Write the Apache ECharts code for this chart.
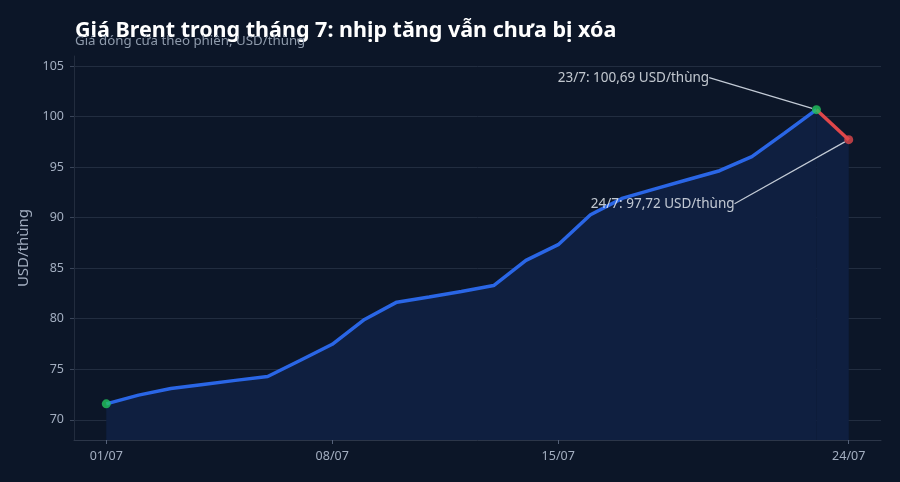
<!DOCTYPE html>
<html>
<head>
<meta charset="utf-8">
<script src="https://cdn.jsdelivr.net/npm/echarts@6/dist/echarts.min.js"></script>
<style>
  html, body { margin: 0; padding: 0; background: #0c1628; }
  #chart { width: 900px; height: 482px; }
</style>
</head>
<body>
<div id="chart"></div>
<script>
// Ngày trong tháng 7 và giá đóng cửa Brent (USD/thùng)
const days = [1, 2, 3, 4, 5, 6, 7, 8, 9, 10, 11, 12, 13, 14, 15, 16, 17, 18, 19, 20, 21, 22, 23, 24];
const prices = [71.58, 72.44, 73.1, 73.5, 73.9, 74.28, 75.87, 77.47, 79.93, 81.64, 82.15, 82.7, 83.28, 85.78, 87.33, 90.29, 91.93, 92.85, 93.75, 94.65, 96.04, 98.35, 100.69, 97.72];
const tickDays = [1, 8, 15, 24];
const yTicks = [70, 75, 80, 85, 90, 95, 100, 105];

const FONT = 'Noto Sans';
const pad = d => String(d).padStart(2, '0') + '/07';
const pts = days.map((d, i) => [d, prices[i]]);
const rising = pts.slice(0, pts.length - 1);
const falling = pts.slice(pts.length - 2);
const fmt = v => v.toFixed(2).replace('.', ',');

// chỉnh vị trí nhãn chú thích (dataIndex 1 = 23/7, 2 = 24/7)
const labelShift = {
    1: { dx: -183, dy: -32 },
    2: { dx: -186, dy: 64 }
};

const chart = echarts.init(document.getElementById('chart'));
chart.setOption({
    backgroundColor: '#0c1628',
    textStyle: { fontFamily: FONT },
    title: {
        text: 'Giá Brent trong tháng 7: nhịp tăng vẫn chưa bị xóa',
        subtext: 'Giá đóng cửa theo phiên, USD/thùng',
        left: 70,
        top: 15,
        itemGap: -7,
        textStyle: { color: '#ffffff', fontSize: 21.5, fontWeight: 'bold', fontFamily: FONT },
        subtextStyle: { color: '#8e9aab', fontSize: 13.3, fontFamily: FONT }
    },
    grid: { left: 74, right: 19, top: 56, bottom: 42 },
    xAxis: {
        type: 'value',
        min: 0,
        max: 25,
        axisLine: { show: true, lineStyle: { color: '#2c3649' } },
        axisTick: { show: true, customValues: tickDays, length: 4, lineStyle: { color: '#56627a' } },
        axisLabel: { customValues: tickDays, formatter: v => pad(v), color: '#a3aec0', fontSize: 12.5, margin: 10 },
        splitLine: { show: false }
    },
    yAxis: {
        type: 'value',
        min: 68,
        max: 106,
        name: 'USD/thùng',
        nameLocation: 'middle',
        nameGap: 42,
        nameTextStyle: { color: '#a3aec0', fontSize: 15 },
        axisLine: { show: true, lineStyle: { color: '#222c3e' } },
        axisTick: { show: true, customValues: yTicks, length: 4, lineStyle: { color: '#3a4559' } },
        axisLabel: { customValues: yTicks, color: '#a3aec0', fontSize: 12.5, margin: 10 },
        splitLine: { show: true, lineStyle: { color: '#222d40', width: 1 } }
    },
    series: [
        {
            type: 'line',
            data: rising,
            showSymbol: false,
            lineStyle: { color: '#2a66e6', width: 3.5 },
            areaStyle: { color: '#0f1f40', opacity: 1 },
            z: 2
        },
        {
            type: 'line',
            data: falling,
            showSymbol: false,
            lineStyle: { color: '#e0474a', width: 3.5 },
            areaStyle: { color: '#0f1f40', opacity: 1 },
            z: 2
        },
        {
            type: 'scatter',
            symbolSize: 9,
            z: 5,
            label: { show: false, color: '#eef2f7', fontSize: 13.5, position: 'inside' },
            labelLine: { show: true, lineStyle: { color: '#c3cbd6', width: 1.2 } },
            labelLayout: p => labelShift[p.dataIndex] || {},
            data: [
                { value: pts[0], itemStyle: { color: '#22c55e' } },
                {
                    value: pts[22],
                    itemStyle: { color: '#22c55e' },
                    label: { show: true, formatter: '23/7: ' + fmt(prices[22]) + ' USD/thùng' }
                },
                {
                    value: pts[23],
                    itemStyle: { color: '#e0474a' },
                    label: { show: true, formatter: '24/7: ' + fmt(prices[23]) + ' USD/thùng' }
                }
            ]
        }
    ]
});
</script>
</body>
</html>
